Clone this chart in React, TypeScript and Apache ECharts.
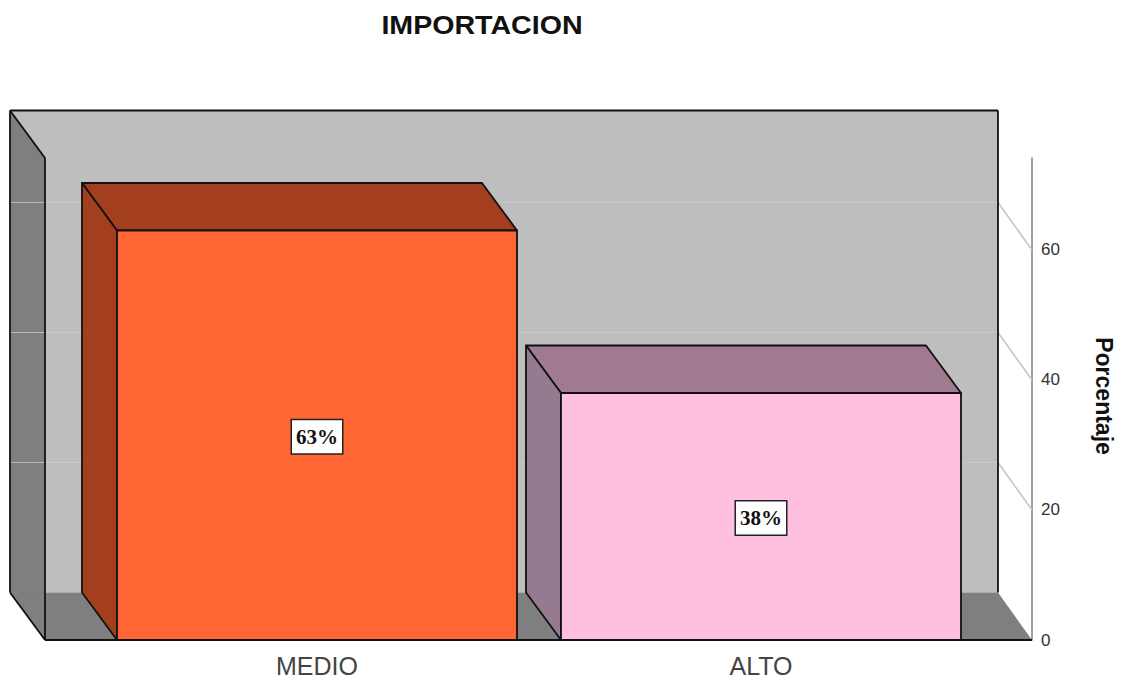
import React, { useEffect, useRef } from "react";
import * as echarts from "echarts";

const titleText = "IMPORTACION";
const categories = ["MEDIO", "ALTO"];
const percentages = [63, 38];
const frontColors = ["#FF6633", "#FFC0E0"];
const topColors = ["#A33F1E", "#A07A8E"];
const sideColors = ["#A33F1E", "#967A90"];
const gridValues = [20, 40, 60];

const Y_MAX = 74.15;
const DEPTH_X = -35;
const DEPTH_Y = -47.5;
const BAND_TO_BAR = 400 / 444;
const EDGE = "#111111";

export default function App() {
  const ref = useRef<HTMLDivElement>(null);

  useEffect(() => {
    const chart = echarts.init(ref.current!, undefined, { renderer: "svg" });

    // Back wall, side wall, floor and gridlines of the 3D box.
    const renderFrame = (_params: any, api: any) => {
      const [, yZero] = api.coord([0, 0]);
      const [, yTop] = api.coord([0, Y_MAX]);
      const left = 45;
      const right = 1032;
      const backRight = 998;
      const backLeft = left + DEPTH_X;
      const backTop = yTop + DEPTH_Y;
      const backBottom = yZero + DEPTH_Y;
      const line = (x1: number, y1: number, x2: number, y2: number, stroke: string, lineWidth = 1.8) => ({
        type: "line",
        shape: { x1, y1, x2, y2 },
        style: { stroke, lineWidth },
      });
      const poly = (points: number[][], fill: string) => ({
        type: "polygon",
        shape: { points },
        style: { fill },
      });
      const children: any[] = [
        poly([[backLeft, backTop], [backRight, backTop], [backRight, backBottom], [backLeft, backBottom]], "#BEBEBE"),
        poly([[backLeft, backTop], [left, yTop], [left, yZero], [backLeft, backBottom]], "#7F7F7F"),
        poly([[backLeft, backBottom], [backRight, backBottom], [right, yZero], [left, yZero]], "#7F7F7F"),
      ];
      gridValues.forEach((v) => {
        const y = api.coord([0, v])[1];
        const yb = y + DEPTH_Y;
        children.push(line(backLeft, yb, left, yb, "#BDBDBD", 1));
        children.push(line(left, yb, backRight, yb, "#C9C9C9", 1));
        children.push(line(backRight, yb, right, y, "#C4C4C4", 1.5));
      });
      children.push(
        line(backLeft, backTop, backRight, backTop, EDGE),
        line(backRight, backTop, backRight, backBottom, EDGE),
        line(backLeft, backTop, backLeft, backBottom, EDGE),
        line(backLeft, backTop, left, yTop, EDGE),
        line(left, yTop, left, yZero, EDGE),
        line(backLeft, backBottom, left, yZero, EDGE),
        line(left, yZero, right, yZero, EDGE),
      );
      return { type: "group", children };
    };

    // One extruded bar: front face, top face, side face and its value box.
    const renderBar = (params: any, api: any) => {
      const idx = api.value(0);
      const value = api.value(1);
      const [cx, yVal] = api.coord([idx, value]);
      const [, yZero] = api.coord([idx, 0]);
      const w = api.size([1, 0])[0] * BAND_TO_BAR;
      const x0 = cx - w / 2;
      const x1 = cx + w / 2;
      const stroke = { stroke: EDGE, lineWidth: 1.8, lineJoin: "round" };
      const i = params.dataIndex;
      return {
        type: "group",
        children: [
          {
            type: "polygon",
            shape: { points: [[x0, yVal], [x0 + DEPTH_X, yVal + DEPTH_Y], [x1 + DEPTH_X, yVal + DEPTH_Y], [x1, yVal]] },
            style: { fill: topColors[i], ...stroke },
          },
          {
            type: "polygon",
            shape: { points: [[x0, yVal], [x0 + DEPTH_X, yVal + DEPTH_Y], [x0 + DEPTH_X, yZero + DEPTH_Y], [x0, yZero]] },
            style: { fill: sideColors[i], ...stroke },
          },
          {
            type: "rect",
            shape: { x: x0, y: yVal, width: w, height: yZero - yVal },
            style: { fill: frontColors[i], ...stroke },
          },
          {
            type: "text",
            x: cx,
            y: (yVal + yZero) / 2 + 1.5,
            style: {
              text: `${value}%`,
              fill: "#111111",
              font: 'bold 21px "Liberation Serif"',
              align: "center",
              verticalAlign: "middle",
              backgroundColor: "#FFFFFF",
              borderColor: "#222222",
              borderWidth: 1.5,
              padding: [6, 4, 6, 4],
            },
          },
        ],
      };
    };

    chart.setOption({
      animation: false,
      backgroundColor: "#FFFFFF",
      graphic: [
        {
          type: "text",
          x: 482,
          y: 25,
          scaleX: 1.1,
          style: {
            text: titleText,
            font: 'bold 26px "Liberation Sans"',
            fill: "#111111",
            align: "center",
            verticalAlign: "middle",
          },
        },
      ],
      grid: { left: 95, right: 139, top: 158, bottom: 40, outerBoundsMode: "none" },
      xAxis: {
        type: "category",
        data: categories,
        axisLine: { show: false },
        axisTick: { show: false },
        axisLabel: { fontFamily: "Liberation Sans", fontSize: 25, lineHeight: 25, color: "#444444", margin: 13 },
      },
      yAxis: {
        type: "value",
        position: "right",
        offset: 49,
        min: 0,
        max: Y_MAX,
        interval: 20,
        splitLine: { show: false },
        axisTick: { show: false },
        axisLine: { show: true, onZero: false, lineStyle: { color: "#808080", width: 1.5 } },
        axisLabel: {
          showMaxLabel: false,
          fontFamily: "Liberation Sans",
          fontSize: 17,
          color: "#333333",
          margin: 9,
        },
        name: "Porcentaje",
        nameLocation: "middle",
        nameRotate: -90,
        nameGap: 60,
        nameTextStyle: {
          fontFamily: "Liberation Sans",
          fontWeight: "bold",
          fontSize: 23,
          color: "#111111",
          padding: [0, 6, 0, 0],
        },
      },
      series: [
        {
          type: "custom",
          coordinateSystem: "cartesian2d",
          clip: false,
          silent: true,
          z: 1,
          renderItem: renderFrame,
          data: [[0, 0]],
        },
        {
          type: "custom",
          coordinateSystem: "cartesian2d",
          clip: false,
          silent: true,
          z: 2,
          renderItem: renderBar,
          encode: { x: 0, y: 1 },
          data: percentages.map((v, i) => [i, v]),
        },
      ],
    });

    return () => chart.dispose();
  }, []);

  return <div ref={ref} style={{ position: "fixed", left: 0, top: 0, width: 1122, height: 680 }} />;
}
